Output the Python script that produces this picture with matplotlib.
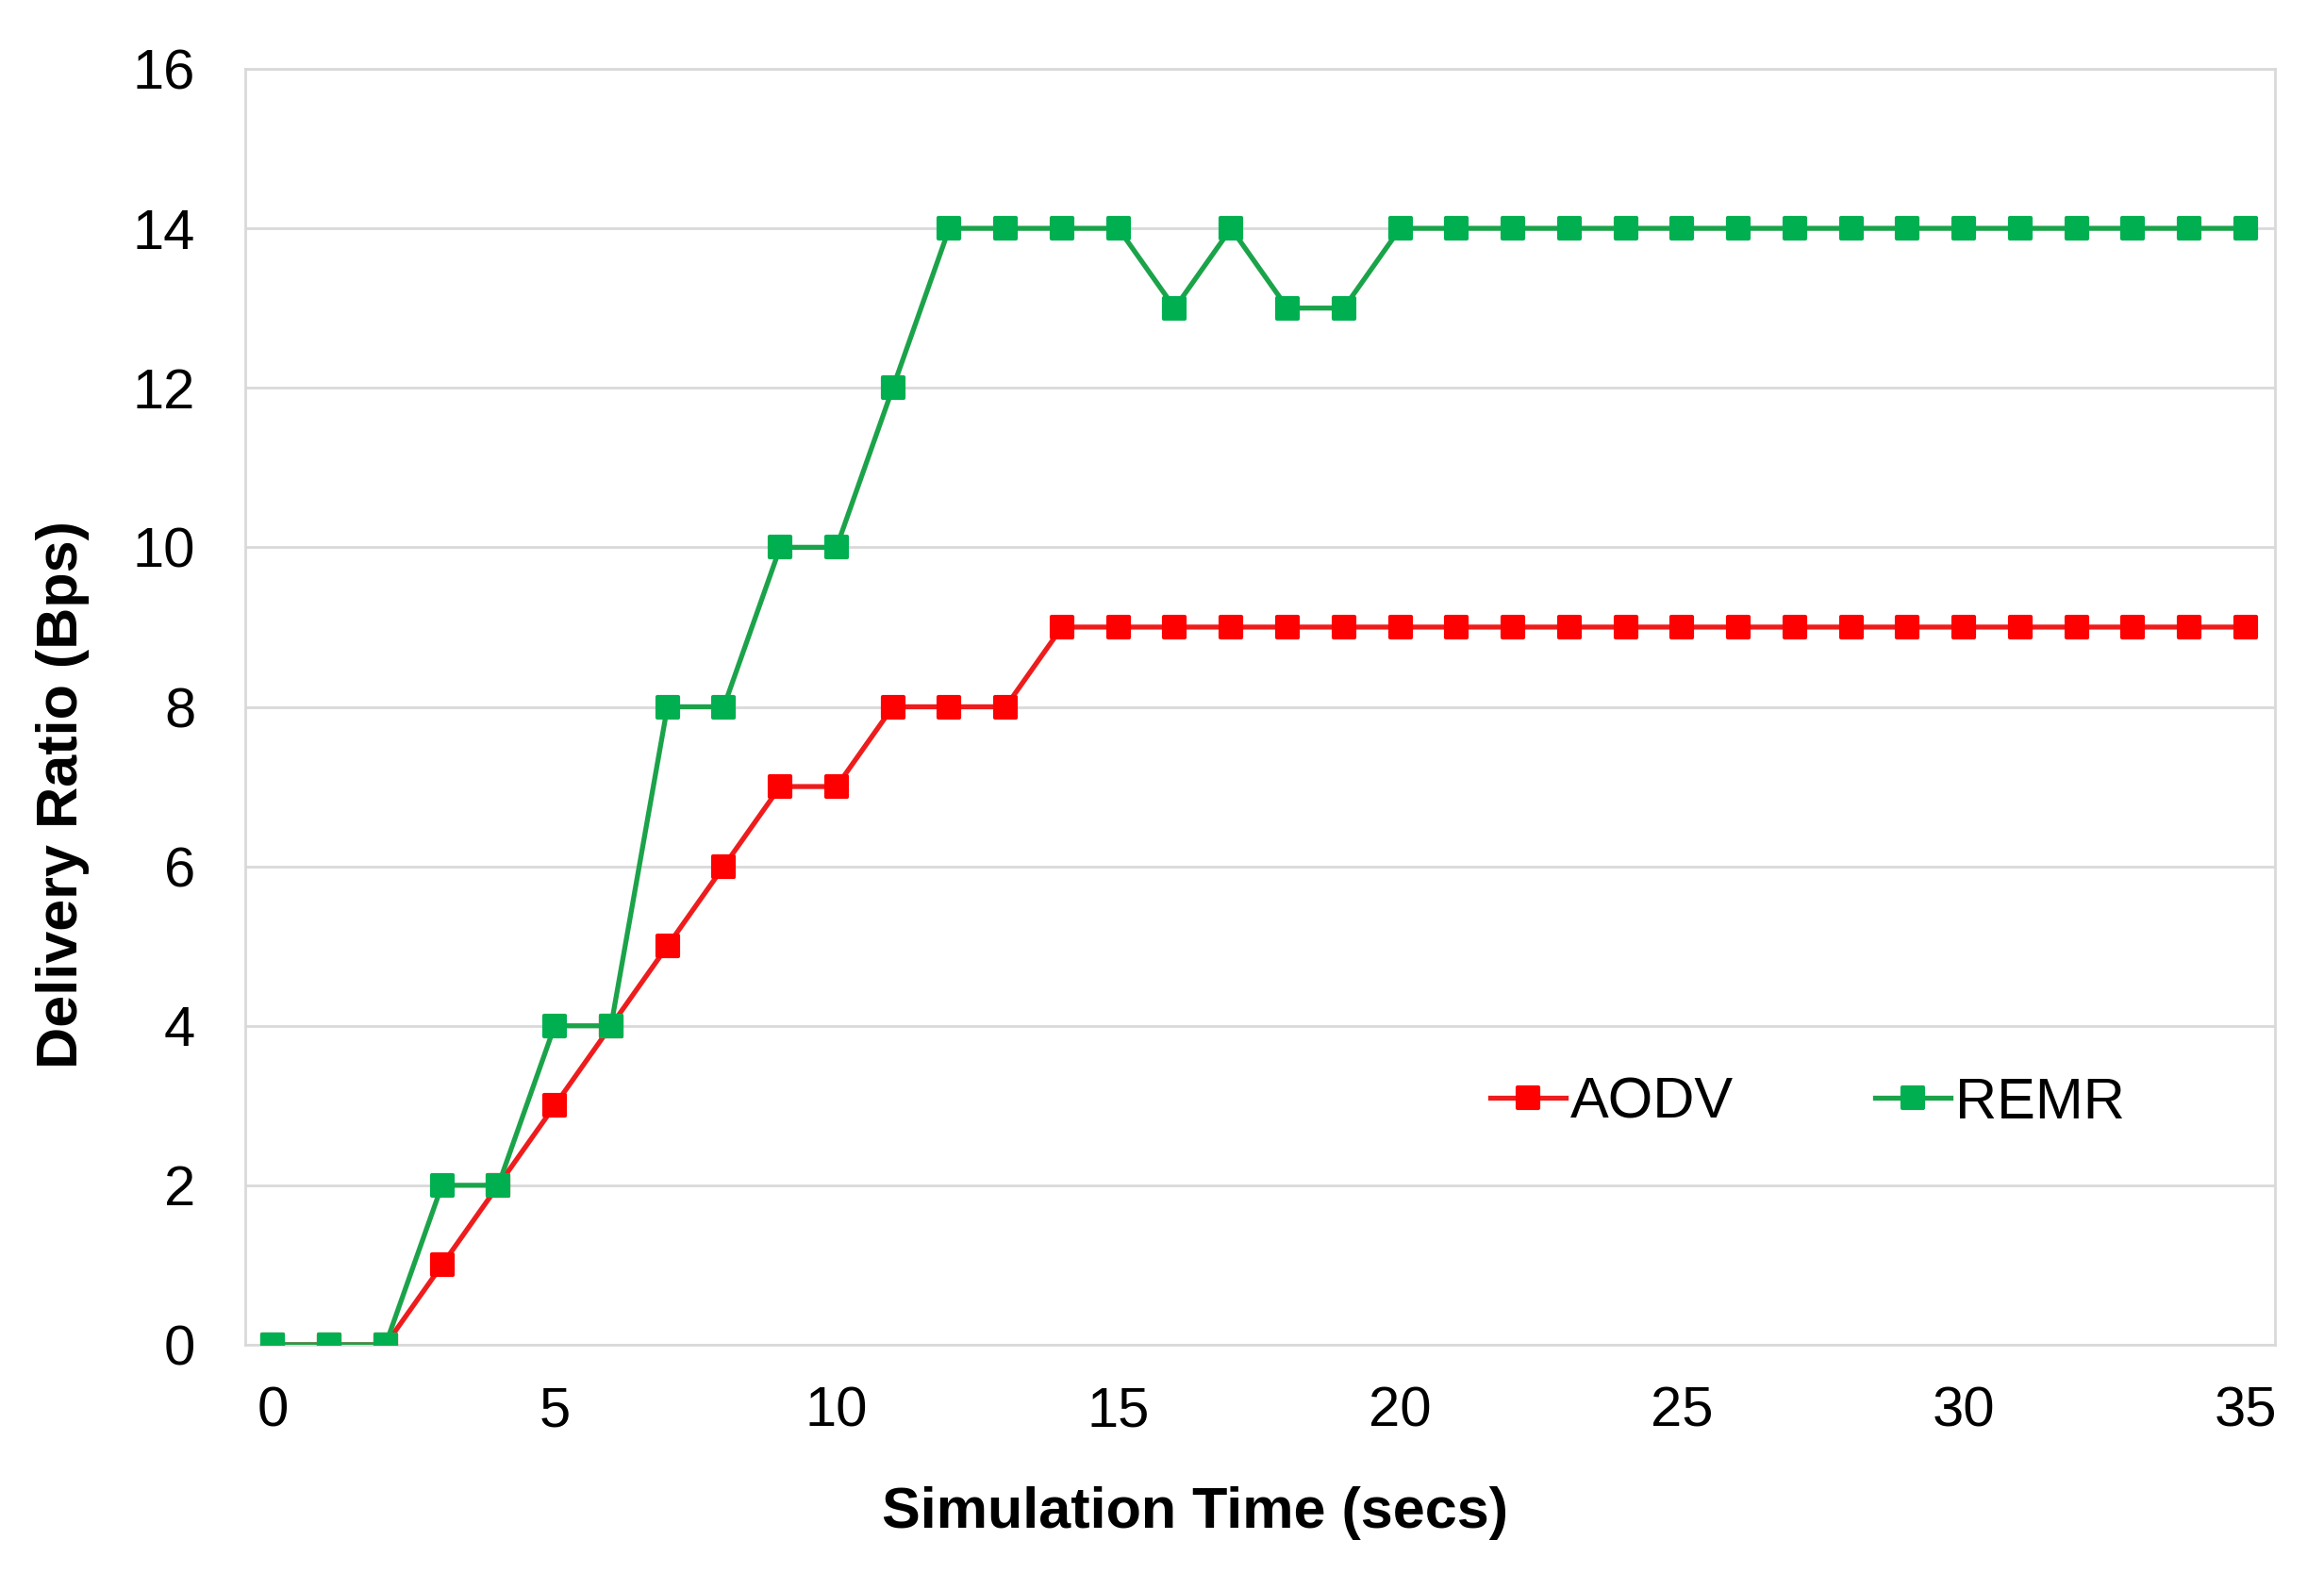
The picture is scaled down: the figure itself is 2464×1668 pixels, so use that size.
import matplotlib
matplotlib.use("Agg")
import matplotlib.pyplot as plt
from matplotlib.markers import MarkerStyle

plt.rcParams['font.family'] = ['Liberation Sans', 'DejaVu Sans']

time = list(range(0, 36))
aodv = [0, 0, 0, 1, 2, 3, 4, 5, 6, 7, 7, 8, 8, 8] + [9] * 22
remr = [0, 0, 0, 2, 2, 4, 4, 8, 8, 10, 10, 12, 14, 14, 14, 14, 13, 14, 13, 13] + [14] * 16
xticks = [0, 5, 10, 15, 20, 25, 30, 35]
yticks = [0, 2, 4, 6, 8, 10, 12, 14, 16]

W, H = 2464, 1668
fig = plt.figure(figsize=(W / 100, H / 100), dpi=100)
L, R, T, B = 260, 2412, 73, 1426
ax = fig.add_axes([L / W, (H - B) / H, (R - L) / W, (B - T) / H])

mk = MarkerStyle('s', joinstyle='round')
ax.plot(time, aodv, color='#EE1C1C', lw=3.8, marker=mk, ms=16,
        mfc='#FF0000', mec='#FF0000', mew=3, label='AODV', zorder=3)
ax.plot(time, remr, color='#1BA34A', lw=3.8, marker=mk, ms=16,
        mfc='#00B050', mec='#00B050', mew=3, label='REMR', zorder=4)

ax.set_xlim(-0.49, 35.52)
ax.set_ylim(0, 16)
ax.set_xticks(xticks)
ax.set_yticks(yticks)
ax.tick_params(axis='both', length=0, labelsize=43)
ax.tick_params(axis='y', pad=38)
ax.tick_params(axis='x', pad=31)
ax.yaxis.grid(True, color='#D9D9D9', lw=2)
ax.set_axisbelow(True)
for s in ax.spines.values():
    s.set_color('#D9D9D9')
    s.set_linewidth(2)

ax.set_xlabel('Simulation Time (secs)', fontsize=44, fontweight='bold', va='center')
ax.xaxis.set_label_coords(0.468, -0.1316)
ax.set_ylabel('Delivery Ratio (Bps)', fontsize=44, fontweight='bold', va='center')
ax.yaxis.set_label_coords(-0.090, 0.431)

leg = ax.legend(loc='center left', bbox_to_anchor=(0.6134, 0.189), ncol=2, frameon=False,
                fontsize=44, handlelength=1.31, handletextpad=0.08, columnspacing=2.46,
                borderaxespad=0, borderpad=0)

fig.savefig('out.png', dpi=100)
